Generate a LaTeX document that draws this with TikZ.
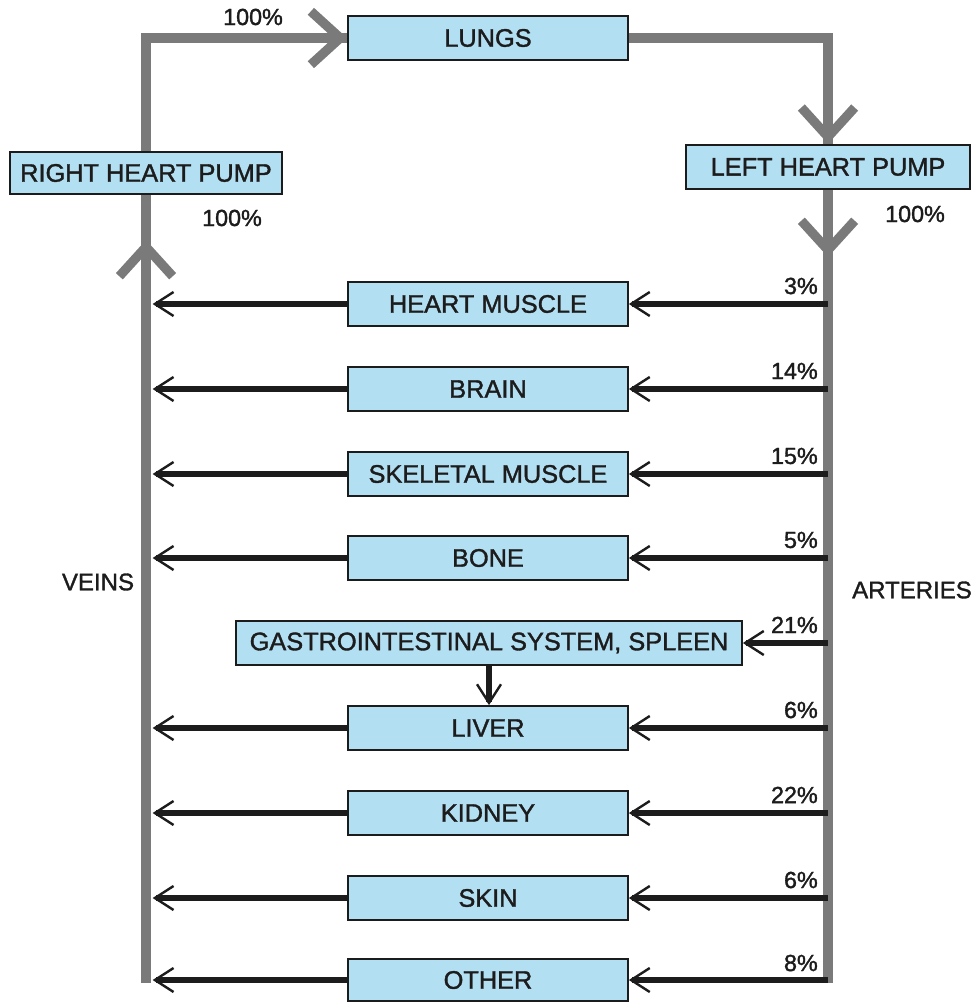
\documentclass[tikz,border=0pt]{standalone}
\usepackage{fontspec}
\setmainfont{Liberation Sans}
\newfontfamily\heavyfont{Liberation Sans}[FakeBold=1.4]
\usetikzlibrary{arrows.meta,backgrounds}
\definecolor{boxblue}{RGB}{179,223,243}
\definecolor{veingray}{RGB}{122,122,122}
\definecolor{ink}{RGB}{28,28,28}
\tikzset{
  organ/.style={draw=ink, line width=1.3pt, fill=boxblue, minimum width=210pt,
    minimum height=33pt, inner sep=0pt, text=ink, font=\heavyfont\fontsize{19}{22}\selectfont},
  vessel/.style={draw=veingray, line width=7pt, line join=miter, line cap=butt},
  bigbarb/.style={-{Straight Barb[length=22pt,width=40pt]}},
  flow/.style={draw=ink, line width=4.2pt, -{Straight Barb[length=14pt,width=18pt,line width=1.8pt]}},
  pct/.style={inner sep=0pt, text=ink, font=\heavyfont\fontsize{17.5}{20}\selectfont},
  side/.style={inner sep=0pt, text=ink, font=\heavyfont\fontsize{18}{20}\selectfont},
}
\begin{document}
\begin{tikzpicture}[x=0.75pt,y=-0.75pt]
\useasboundingbox (0,0) rectangle (979,1002);
% main boxes
\node[organ] (lungs) at (488,38) {LUNGS};
\node[organ, minimum width=204pt, minimum height=31.5pt] (rhp) at (146,173) {RIGHT HEART PUMP};
\node[organ, minimum width=213pt, minimum height=33.5pt] (lhp) at (828,167) {LEFT HEART PUMP};
% organs
\node[organ] (hm) at (488,304) {HEART MUSCLE};
\node[organ] (br) at (488,389) {BRAIN};
\node[organ] (sk) at (488,474) {SKELETAL MUSCLE};
\node[organ] (bo) at (488,558) {BONE};
\node[organ, minimum width=379.5pt, minimum height=32.5pt] (gi) at (489,643) {GASTROINTESTINAL SYSTEM, SPLEEN};
\node[organ] (li) at (488,728) {LIVER};
\node[organ] (ki) at (488,813) {KIDNEY};
\node[organ] (sn) at (488,898) {SKIN};
\node[organ, minimum height=31pt] (ot) at (488,980) {OTHER};
% coordinates on the vessels
\coordinate (vbot) at (146,983);
\coordinate (vtail) at (146,300);
\coordinate (vtip) at (146,240);
\coordinate (ltail) at (280,38);
\coordinate (rtail) at (828,90);
\coordinate (atail) at (828,200);
\coordinate (atip) at (828,257);
\coordinate (abot) at (828,983);
% labels
\node[pct] (p100a) at (253,17) {100\%};
\node[pct] (p100b) at (232,218) {100\%};
\node[pct] (p100c) at (915,214) {100\%};
\node[side] (veins) at (98,582) {VEINS};
\node[side] (arteries) at (912,590) {ARTERIES};
\node[pct, anchor=east] (q1) at (818,286) {3\%};
\node[pct, anchor=east] (q2) at (818,371) {14\%};
\node[pct, anchor=east] (q3) at (818,456) {15\%};
\node[pct, anchor=east] (q4) at (818,540) {5\%};
\node[pct, anchor=east] (q5) at (818,625) {21\%};
\node[pct, anchor=east] (q6) at (818,710) {6\%};
\node[pct, anchor=east] (q7) at (818,795) {22\%};
\node[pct, anchor=east] (q8) at (818,880) {6\%};
\node[pct, anchor=east] (q9) at (818,963) {8\%};
\begin{scope}[on background layer]
  % vessels
  \draw[vessel] (vbot) |- (lungs.west);
  \draw[vessel] (lungs.east) -| (abot);
  \draw[vessel,bigbarb] (vtail) -- (vtip);
  \draw[vessel,bigbarb] (ltail) -- (lungs.west);
  \draw[vessel,bigbarb] (rtail) -- (lhp.north);
  \draw[vessel,bigbarb] (atail) -- (atip);
\end{scope}
% flows: arteries to organs
\foreach \o in {hm,br,sk,bo,gi,li,ki,sn,ot}{
  \draw[flow] (abot |- \o) -- (\o.east);
}
% flows: organs to veins
\foreach \o in {hm,br,sk,bo,li,ki,sn,ot}{
  \draw[flow, shorten >=5pt] (\o.west) -- (vbot |- \o);
}
\draw[flow] (gi.south) -- (gi.south |- li.north);
\end{tikzpicture}
\end{document}
